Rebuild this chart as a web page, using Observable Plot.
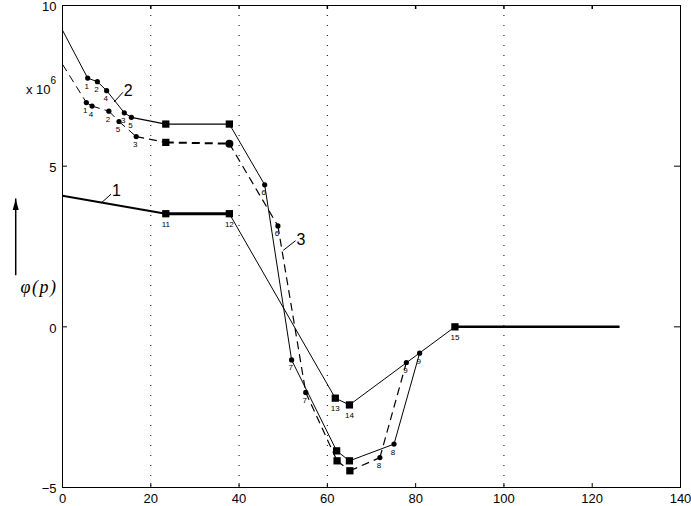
<!DOCTYPE html>
<html><head><meta charset="utf-8">
<script src="https://cdn.jsdelivr.net/npm/d3@7"></script>
<script src="https://cdn.jsdelivr.net/npm/@observablehq/plot@0.6"></script>
<style>
body{margin:0;background:#fff;}
#chart svg{display:block;}
.phi text{letter-spacing:1.5px;}
</style>
</head><body><div id="chart"></div>
<script>
// ---- axes / ticks ----
const xTicks = [0, 20, 40, 60, 80, 100, 120, 140];
const yTicks = [-5, 0, 5, 10];
const topTicks = [20, 40, 60, 80, 100, 120];
const rightTicks = [0, 5];
const gridX = [20, 40, 60, 100];

// ---- curve 1 (solid, squares 11..15) ----
const c1x   = [0, 23.4, 37.8, 61.8, 65.0, 88.9, 126.2];
const c1y   = [4.08, 3.52, 3.52, -2.22, -2.43, 0, 0];
const c1m   = ["", "s", "s", "s", "s", "s", ""];
const c1lab = ["", "11", "12", "13", "14", "15", ""];
const c1w   = [2, 3, 1, 1, 1, 2.5];

// ---- curve 2 (solid) ----
const c2x   = [0, 5.7, 7.9, 10.0, 14.0, 15.6, 23.4, 37.8, 45.8, 51.9, 62.1, 65.0, 75.1, 80.9];
const c2y   = [9.23, 7.74, 7.63, 7.35, 6.66, 6.52, 6.31, 6.31, 4.42, -1.03, -3.86, -4.17, -3.65, -0.82];
const c2m   = ["", "o", "o", "o", "o", "o", "s", "s", "o", "o", "s", "s", "o", "o"];
const c2lab = ["", "1", "2", "4", "3", "5", "", "", "6", "7", "", "", "8", "9"];
const c2w   = [1, 1, 1, 1, 1, 1.3, 1.3, 1, 1, 1, 1, 1, 1];

// ---- curve 3 (dashed) ----
const c3x   = [0, 5.4, 6.7, 10.5, 12.8, 16.7, 23.4, 37.8, 48.8, 55.1, 62.2, 65.1, 71.9, 77.9];
const c3y   = [8.17, 6.98, 6.87, 6.71, 6.39, 5.92, 5.74, 5.70, 3.14, -2.04, -4.17, -4.48, -4.07, -1.11];
const c3m   = ["", "o", "o", "o", "o", "o", "s", "O", "o", "o", "s", "s", "o", "o"];
const c3lab = ["", "1", "4", "2", "5", "3", "", "", "6", "7", "", "", "8", "9"];
const c3w   = [1, 1, 1, 1, 1, 1.3, 2, 1.2, 1.2, 1.2, 1.2, 1.2, 1.2];

// ---- curve-number annotations (label, leader line) ----
const annLabels = ["1", "2", "3"];
const annX  = [12.2, 14.9, 54.0];
const annY  = [4.22, 7.35, 2.71];
const annX1 = [11.0, 13.7, 52.8];
const annY1 = [4.13, 7.30, 2.68];
const annX2 = [8.9, 11.7, 50.0];
const annY2 = [3.87, 7.00, 2.38];

// ---- y-axis arrow annotation (data units, outside frame) ----
const arrowX = [-10.6];
const arrowY1 = [1.84];
const arrowY2 = [3.98];

function pts(xs, ys, ms, labs) {
  return xs.map((x, i) => ({x, y: ys[i], m: ms[i], lab: labs[i]}));
}
function segs(xs, ys, ws) {
  const out = [];
  for (let i = 0; i < xs.length - 1; i++)
    out.push({x1: xs[i], y1: ys[i], x2: xs[i + 1], y2: ys[i + 1], w: ws[i]});
  return out;
}
const P = [
  ...pts(c1x, c1y, c1m, c1lab),
  ...pts(c2x, c2y, c2m, c2lab),
  ...pts(c3x, c3y, c3m, c3lab)
];
const solidSegs = [...segs(c1x, c1y, c1w), ...segs(c2x, c2y, c2w)];
const dashSegs = segs(c3x, c3y, c3w);
const ann = annLabels.map((t, i) => ({t, x: annX[i], y: annY[i], x1: annX1[i], y1: annY1[i], x2: annX2[i], y2: annY2[i]}));
const arrows = arrowX.map((x, i) => ({x, y1: arrowY1[i], y2: arrowY2[i]}));

const headSymbol = {
  draw(ctx) { ctx.moveTo(0, 0); ctx.lineTo(3, 11); ctx.lineTo(-3, 11); ctx.closePath(); }
};

const chart = Plot.plot({
  width: 691, height: 506,
  marginLeft: 62, marginRight: 11, marginTop: 5, marginBottom: 19,
  style: {fontFamily: "Liberation Sans, Arial, sans-serif", fontSize: "13px", background: "#fff", color: "#000", overflow: "visible"},
  x: {domain: [0, 140], axis: null},
  y: {domain: [-5, 10], axis: null},
  marks: [
    Plot.ruleX(gridX, {x: d => d, stroke: "#000", strokeWidth: 1, strokeDasharray: "1,9"}),
    Plot.frame({stroke: "#000", strokeWidth: 1}),
    Plot.ruleX(xTicks, {x: d => d, y1: -5, y2: -5, insetTop: -4, stroke: "#000"}),
    Plot.ruleX(topTicks, {x: d => d, y1: 10, y2: 10, insetBottom: -4, stroke: "#000", strokeWidth: 1.5}),
    Plot.ruleY(yTicks, {y: d => d, x1: 0, x2: 0, insetRight: -5, stroke: "#000"}),
    Plot.ruleY(rightTicks, {y: d => d, x1: 140, x2: 140, insetLeft: -6, stroke: "#000"}),
    Plot.axisX(xTicks, {tickSize: 0, tickPadding: 6, label: null, fontSize: 13}),
    Plot.axisY(yTicks, {tickSize: 0, tickPadding: 6, label: null, fontSize: 13, dy: 1.5}),
    Plot.link(solidSegs, {x1: "x1", y1: "y1", x2: "x2", y2: "y2", stroke: "#000", strokeWidth: "w"}),
    Plot.link(dashSegs, {x1: "x1", y1: "y1", x2: "x2", y2: "y2", stroke: "#000", strokeWidth: "w", strokeDasharray: "8,5"}),
    Plot.dot(P.filter(d => d.m === "o"), {x: "x", y: "y", r: 2.6, fill: "#000", stroke: "none"}),
    Plot.dot(P.filter(d => d.m === "O"), {x: "x", y: "y", r: 4, fill: "#000", stroke: "none"}),
    Plot.dot(P.filter(d => d.m === "s"), {x: "x", y: "y", r: 4.1, symbol: "square", fill: "#000", stroke: "none"}),
    Plot.text(P.filter(d => d.lab && d.m === "o"), {x: "x", y: "y", text: "lab", dx: -1, dy: 8, fontSize: 8, fill: "#000"}),
    Plot.text(P.filter(d => d.lab && d.m === "s"), {x: "x", y: "y", text: "lab", dx: 0, dy: 10.5, fontSize: 8, fill: "#000"}),
    Plot.link(ann, {x1: "x1", y1: "y1", x2: "x2", y2: "y2", stroke: "#000", strokeWidth: 1}),
    Plot.text(ann, {x: "x", y: "y", text: "t", fontSize: 16, fill: "#000"}),
    Plot.ruleX(arrows, {x: "x", y1: "y1", y2: "y2", stroke: "#000", strokeWidth: 1.5, insetTop: 8}),
    Plot.dot(arrows, {x: "x", y: "y2", symbol: headSymbol, fill: "#000", stroke: "none"}),
    Plot.text(["x 10"], {frameAnchor: "top-left", text: d => d, dx: -12, dy: 79, textAnchor: "end", fontSize: 13}),
    Plot.text(["6"], {frameAnchor: "top-left", text: d => d, dx: -12, dy: 71, textAnchor: "start", fontSize: 10}),
    Plot.text(["φ(p)"], {frameAnchor: "top-left", text: d => d, dx: -42, dy: 275, fontSize: 18, fontStyle: "italic", fontFamily: "Liberation Serif, Times New Roman, serif", className: "phi"})
  ]
});
document.getElementById("chart").appendChild(chart);
</script>
</body></html>
